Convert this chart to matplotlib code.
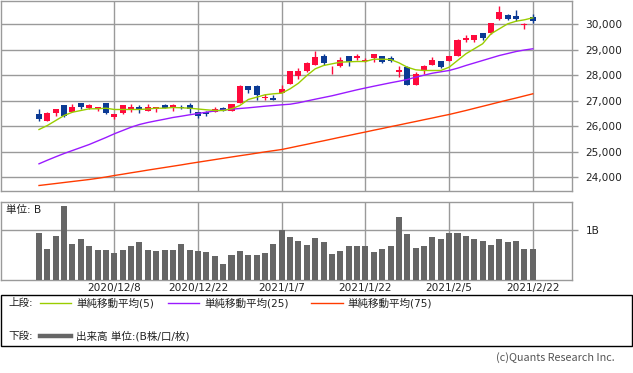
import numpy as np
import matplotlib
matplotlib.use("Agg")
import matplotlib.pyplot as plt
from matplotlib.lines import Line2D
from matplotlib.patches import Rectangle

plt.rcParams['font.family'] = ['DejaVu Sans', 'Noto Sans CJK JP']

# ---------------- data ----------------
dates = ["2020/11/25", "2020/11/26", "2020/11/27", "2020/11/30",
         "2020/12/1", "2020/12/2", "2020/12/3", "2020/12/4", "2020/12/7", "2020/12/8",
         "2020/12/9", "2020/12/10", "2020/12/11", "2020/12/14", "2020/12/15", "2020/12/16",
         "2020/12/17", "2020/12/18", "2020/12/21", "2020/12/22", "2020/12/23", "2020/12/24",
         "2020/12/25", "2020/12/28", "2020/12/29", "2020/12/30",
         "2021/1/4", "2021/1/5", "2021/1/6", "2021/1/7", "2021/1/8", "2021/1/12", "2021/1/13",
         "2021/1/14", "2021/1/15", "2021/1/18", "2021/1/19", "2021/1/20", "2021/1/21",
         "2021/1/22", "2021/1/25", "2021/1/26", "2021/1/27", "2021/1/28", "2021/1/29",
         "2021/2/1", "2021/2/2", "2021/2/3", "2021/2/4", "2021/2/5", "2021/2/8", "2021/2/9",
         "2021/2/10", "2021/2/12", "2021/2/15", "2021/2/16", "2021/2/17", "2021/2/18",
         "2021/2/19", "2021/2/22"]

opens = [26471, 26235, 26510, 26824, 26588, 26902, 26725, 26686, 26902, 26353,
         26510, 26667, 26745, 26627, 26667, 26824, 26706, 26784, 26824, 26549,
         26588, 26588, 26706, 26627, 26902, 27569, 27569, 27098, 27098, 27294,
         27686, 27961, 28157, 28392, 28784, 28196, 28353, 28784, 28667, 28549,
         28667, 28745, 28667, 28118, 28314, 27608, 28196, 28431, 28549, 28588,
         28784, 29373, 29373, 29647, 29647, 30196, 30353, 30314, 29961, 30275]
highs = [26694, 26549, 26667, 26824, 26863, 26902, 26863, 26784, 26902, 26471,
         26824, 26863, 26824, 26863, 26745, 26863, 26863, 26824, 26902, 26588,
         26627, 26784, 26745, 26863, 27608, 27569, 27608, 27255, 27216, 27608,
         28157, 28275, 28510, 28980, 28824, 28353, 28706, 28784, 28824, 28667,
         28824, 28745, 28745, 28353, 28353, 28118, 28392, 28706, 28588, 28784,
         29412, 29569, 29569, 29647, 30078, 30706, 30392, 30549, 30078, 30431]
lows = [26235, 26235, 26392, 26373, 26588, 26686, 26667, 26627, 26471, 26275,
        26471, 26588, 26510, 26627, 26588, 26706, 26627, 26667, 26510, 26314,
        26392, 26588, 26627, 26627, 26902, 27294, 27020, 27020, 27020, 27294,
        27647, 27843, 28118, 28392, 28431, 28078, 28314, 28353, 28627, 28510,
        28510, 28471, 28510, 27922, 27608, 27608, 28078, 28392, 28275, 28549,
        28784, 29333, 29333, 29373, 29608, 30157, 30157, 30118, 29804, 30078]
closes = [26275, 26537, 26667, 26392, 26784, 26784, 26824, 26745, 26529, 26471,
          26824, 26745, 26667, 26745, 26745, 26706, 26824, 26706, 26667, 26392,
          26471, 26667, 26627, 26863, 27569, 27412, 27216, 27176, 27020, 27490,
          28157, 28157, 28471, 28706, 28471, 28235, 28627, 28510, 28745, 28627,
          28824, 28510, 28588, 28196, 27608, 28078, 28353, 28627, 28314, 28784,
          29373, 29490, 29569, 29490, 30078, 30471, 30235, 30196, 30000, 30118]

ma5 = [25882, 26039, 26235, 26431, 26561, 26627, 26694, 26694, 26718, 26667,
       26667, 26667, 26667, 26686, 26718, 26718, 26745, 26733, 26718, 26686,
       26655, 26627, 26627, 26694, 26824, 27059, 27149, 27243, 27282, 27306,
       27478, 27698, 28000, 28262, 28392, 28458, 28522, 28537, 28549, 28549,
       28639, 28639, 28627, 28498, 28325, 28223, 28196, 28196, 28196, 28325,
       28588, 28851, 29047, 29243, 29635, 29831, 30027, 30129, 30184, 30263]
ma25 = [24537, 24678, 24812, 24941, 25059, 25176, 25294, 25431, 25568, 25714,
        25843, 25972, 26078, 26157, 26223, 26286, 26353, 26404, 26459, 26510,
        26561, 26608, 26647, 26678, 26706, 26733, 26764, 26796, 26823, 26851,
        26874, 26929, 27000, 27070, 27137, 27204, 27282, 27361, 27439, 27510,
        27580, 27647, 27714, 27776, 27843, 27933, 28012, 28090, 28145, 28196,
        28286, 28392, 28490, 28588, 28686, 28784, 28862, 28941, 29000, 29047]
ma75 = [23686, 23725, 23764, 23804, 23843, 23882, 23921, 23968, 24019, 24078,
        24129, 24184, 24235, 24290, 24341, 24392, 24443, 24494, 24549, 24600,
        24651, 24702, 24753, 24804, 24854, 24902, 24953, 25004, 25051, 25098,
        25165, 25235, 25302, 25372, 25439, 25509, 25580, 25647, 25717, 25784,
        25855, 25921, 25992, 26059, 26129, 26196, 26266, 26333, 26404, 26471,
        26549, 26627, 26710, 26792, 26874, 26957, 27039, 27117, 27200, 27282]

volume_b = [0.939, 0.635, 0.878, 1.486, 0.736, 0.818, 0.696, 0.615, 0.615, 0.554,
            0.615, 0.696, 0.757, 0.615, 0.595, 0.615, 0.615, 0.736, 0.615, 0.595,
            0.574, 0.493, 0.331, 0.514, 0.595, 0.514, 0.514, 0.554, 0.736, 1.000,
            0.858, 0.797, 0.716, 0.838, 0.757, 0.534, 0.595, 0.696, 0.676, 0.676,
            0.574, 0.635, 0.696, 1.264, 0.919, 0.655, 0.676, 0.858, 0.818, 0.939,
            0.939, 0.878, 0.818, 0.797, 0.716, 0.818, 0.757, 0.797, 0.635, 0.635]

price_ticks = [24000, 25000, 26000, 27000, 28000, 29000, 30000]
date_labels = ["2020/12/8", "2020/12/22", "2021/1/7", "2021/1/22", "2021/2/5", "2021/2/22"]
legend_top = ["単純移動平均(5)", "単純移動平均(25)", "単純移動平均(75)"]
legend_bottom = "出来高 単位:(B株/口/枚)"

# ---------------- styling ----------------
W, H = 633, 373
RED = "#ff0a3c"
BLUE = "#0b3a94"
C_MA5 = "#9acd00"
C_MA25 = "#9a1aff"
C_MA75 = "#ff3b00"
GRID = "#9a9a9a"
VOLC = "#666666"
TXT = "#222222"
FS = 7.6

fig = plt.figure(figsize=(W / 100, H / 100), dpi=100)


def rect(l, t, r, b):
    return [l / W, 1 - b / H, (r - l) / W, (b - t) / H]


x = np.arange(len(dates))
xl = (-4.6, 63.62)
tick_idx = [dates.index(d) for d in date_labels]

# ---- price panel ----
ax = fig.add_axes(rect(0.5, 0.5, 571.5, 190.5))
ax.set_xlim(*xl)
ax.set_ylim(23490, 30941)
o = np.array(opens); c = np.array(closes)
cols = [RED if cc >= oo else BLUE for oo, cc in zip(o, c)]
ax.vlines(x, lows, highs, colors=cols, linewidth=1.0, zorder=3)
ax.bar(x, np.maximum(np.abs(c - o), 30), bottom=np.minimum(o, c), width=0.72,
       color=cols, linewidth=0, zorder=4)
ax.plot(x, ma75, color=C_MA75, lw=1.0, zorder=5)
ax.plot(x, ma25, color=C_MA25, lw=1.0, zorder=5)
ax.plot(x, ma5, color=C_MA5, lw=1.0, zorder=5)

ax.set_yticks(price_ticks)
ax.set_yticklabels([f"{v:,}" for v in price_ticks])
ax.yaxis.tick_right()
ax.tick_params(axis='y', length=4, width=1, color=GRID, pad=6, labelsize=FS, labelcolor=TXT)
ax.set_xticks(tick_idx)
ax.tick_params(axis='x', length=0, labelbottom=False)
ax.grid(True, color=GRID, lw=1.0, zorder=0)
for s in ax.spines.values():
    s.set_color(GRID); s.set_linewidth(1.0)

# ---- volume panel ----
av = fig.add_axes(rect(0.5, 201.7, 571.5, 280))
av.set_xlim(*xl)
av.set_ylim(0, 1.58)
av.bar(x, volume_b, width=0.72, color=VOLC, linewidth=0, zorder=3)
av.set_yticks([1.0])
av.set_yticklabels(["1B"])
av.yaxis.tick_right()
av.tick_params(axis='y', length=4, width=1, color=GRID, pad=6, labelsize=FS, labelcolor=TXT)
av.set_xticks(tick_idx)
av.set_xticklabels(date_labels)
av.tick_params(axis='x', length=0, pad=2.5, labelsize=FS, labelcolor=TXT)
av.grid(True, color=GRID, lw=1.0, zorder=0)
for s in av.spines.values():
    s.set_color(GRID); s.set_linewidth(1.0)
av.text(5 / 571, 0.9, "単位: B", transform=av.transAxes, fontsize=FS, color=TXT,
        ha='left', va='center')

# ---- legend box ----
def fx(p):
    return p / W


def fy(p):
    return 1 - p / H


fig.add_artist(Rectangle((fx(0.5), fy(346)), fx(631.5), (346 - 295) / H, fill=False,
                         edgecolor="black", lw=1.0, transform=fig.transFigure))
fig.text(fx(8), fy(303), "上段:", fontsize=FS, color=TXT, va='center', ha='left')
fig.text(fx(8), fy(336), "下段:", fontsize=FS, color=TXT, va='center', ha='left')
seg = [(40, 71, C_MA5, 76), (168, 199, C_MA25, 204), (311, 343, C_MA75, 347)]
for (a, b, col, tx), lab in zip(seg, legend_top):
    fig.add_artist(Line2D([fx(a), fx(b)], [fy(303), fy(303)], color=col, lw=1.0,
                          transform=fig.transFigure))
    fig.text(fx(tx), fy(303), lab, fontsize=FS, color=TXT, va='center', ha='left')
fig.add_artist(Line2D([fx(40), fx(71)], [fy(336), fy(336)], color=VOLC, lw=3.2,
                      transform=fig.transFigure))
fig.text(fx(76), fy(336), legend_bottom, fontsize=FS, color=TXT, va='center', ha='left')

fig.text(fx(615), fy(358), "(c)Quants Research Inc.", fontsize=7.8, color="#555555",
         va='center', ha='right', family=['Noto Sans CJK JP', 'DejaVu Sans'])

fig.savefig("out.png", dpi=100)
